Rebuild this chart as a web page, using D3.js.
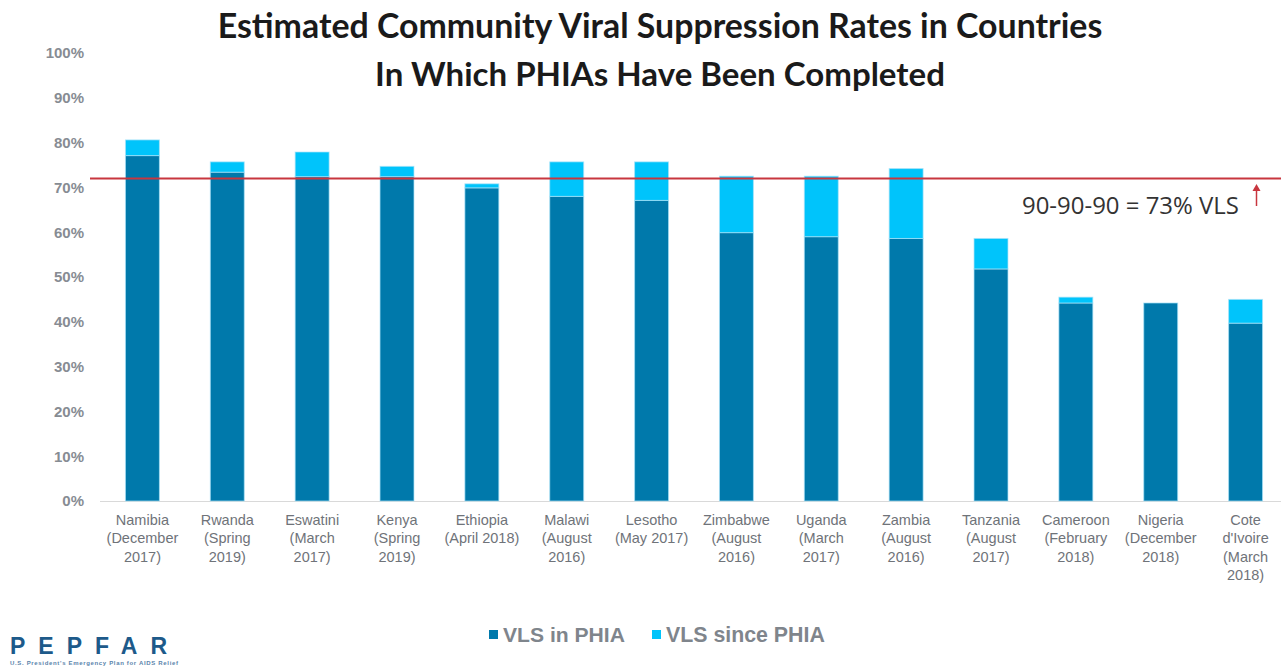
<!DOCTYPE html>
<html>
<head>
<meta charset="utf-8">
<script src="https://cdn.jsdelivr.net/npm/d3@7"></script>
<style>
  body { margin: 0; background: #fff; }
  svg { display: block; }
</style>
</head>
<body>
<div id="plot"></div>
<script>
// ############ DATA ###############

const countries = ["Namibia", "Rwanda", "Eswatini", "Kenya", "Ethiopia", "Malawi", "Lesotho",
  "Zimbabwe", "Uganda", "Zambia", "Tanzania", "Cameroon", "Nigeria", "Cote d'Ivoire"];

const labelLines = [
  ["Namibia", "(December", "2017)"],
  ["Rwanda", "(Spring", "2019)"],
  ["Eswatini", "(March", "2017)"],
  ["Kenya", "(Spring", "2019)"],
  ["Ethiopia", "(April 2018)"],
  ["Malawi", "(August", "2016)"],
  ["Lesotho", "(May 2017)"],
  ["Zimbabwe", "(August", "2016)"],
  ["Uganda", "(March", "2017)"],
  ["Zambia", "(August", "2016)"],
  ["Tanzania", "(August", "2017)"],
  ["Cameroon", "(February", "2018)"],
  ["Nigeria", "(December", "2018)"],
  ["Cote", "d'Ivoire", "(March", "2018)"]
];

const vlsInPhia    = [77.1, 73.4, 72.4, 72.4, 69.9, 68.0, 67.1, 59.9, 59.0, 58.6, 51.8, 44.2, 44.2, 39.7];
const vlsSincePhia = [ 3.5,  2.3,  5.5,  2.3,  0.9,  7.7,  8.6, 12.6, 13.5, 15.6,  6.8,  1.3,  0.0,  5.3];

const seriesNames = ["VLS in PHIA", "VLS since PHIA"];
const seriesColors = ["#0079ab", "#00c4fb"];

const yTicks = [0, 10, 20, 30, 40, 50, 60, 70, 80, 90, 100];

const targetValue = 72;
const targetLabel = "90-90-90 = 73% VLS";

const titleLines = ["Estimated Community Viral Suppression Rates in Countries",
  "In Which PHIAs Have Been Completed"];

// ############ SETUP ###############

const w = 1281, h = 667;

const svg = d3.select("div#plot")
  .append("svg")
  .attr("width", w)
  .attr("height", h);

svg.append("rect")
  .attr("width", w)
  .attr("height", h)
  .attr("fill", "#fff");

const xScale = d3.scaleBand()
  .domain(countries)
  .range([100, 1288])
  .paddingInner(0.6)
  .paddingOuter(0.3);

const yScale = d3.scaleLinear()
  .domain([0, 100])
  .range([501, 53]);

// fit a text element to a given width by changing its font size
function fitWidth(sel, width) {
  const len = sel.node().getComputedTextLength();
  const fs = parseFloat(sel.attr("font-size"));
  sel.attr("font-size", fs * width / len);
}

// title
svg.append("g")
  .attr("id", "title")
  .selectAll("text")
  .data(titleLines)
  .enter()
  .append("text")
    .attr("x", 660)
    .attr("y", (d, i) => 38 + i * 48)
    .attr("text-anchor", "middle")
    .attr("font-family", "Lato, 'Open Sans', sans-serif")
    .attr("font-weight", "bold")
    .attr("font-size", 32)
    .attr("fill", "#1a1a1a")
    .text(d => d)
    .each(function(d, i) { fitWidth(d3.select(this), i == 0 ? 885 : 570); });

// y-axis labels
const yAxis = d3.axisLeft(yScale)
  .tickValues(yTicks)
  .tickSize(0)
  .tickPadding(0)
  .tickFormat(d => d + "%");

svg.append("g")
  .attr("id", "yaxis")
  .attr("transform", "translate(84, 0)")
  .call(yAxis)
  .call(g => g.select(".domain").remove())
  .selectAll("text")
    .attr("font-family", "'Liberation Sans', Arial, sans-serif")
    .attr("font-weight", "bold")
    .attr("font-size", 15)
    .attr("fill", "#878c93");

// baseline
svg.append("line")
  .attr("x1", 100)
  .attr("x2", w)
  .attr("y1", yScale(0) + 0.5)
  .attr("y2", yScale(0) + 0.5)
  .attr("stroke", "#d9d9d9")
  .attr("stroke-width", 1);

// ############ BARS ###############

const table = countries.map((c, i) => ({country: c, "VLS in PHIA": vlsInPhia[i], "VLS since PHIA": vlsSincePhia[i]}));
const stacked = d3.stack().keys(seriesNames)(table);

svg.append("g")
  .attr("id", "bars")
  .selectAll("g")
  .data(stacked)
  .enter()
  .append("g")
    .attr("fill", (d, i) => seriesColors[i])
  .selectAll("rect")
  .data(d => d.filter(e => e[1] - e[0] > 0))
  .enter()
  .append("rect")
    .attr("x", d => xScale(d.data.country))
    .attr("y", d => yScale(d[1]))
    .attr("width", xScale.bandwidth())
    .attr("height", d => yScale(d[0]) - yScale(d[1]))
    .attr("stroke", "#a9e3f8")
    .attr("stroke-opacity", 0.7)
    .attr("stroke-width", 1);

// x labels
svg.append("g")
  .attr("id", "xlabels")
  .selectAll("text")
  .data(countries)
  .enter()
  .append("text")
    .attr("text-anchor", "middle")
    .attr("font-family", "'Liberation Sans', Arial, sans-serif")
    .attr("font-size", 14.5)
    .attr("fill", "#6f7379")
    .selectAll("tspan")
    .data((d, i) => labelLines[i].map(l => ({c: d, l: l})))
    .enter()
    .append("tspan")
      .attr("x", d => xScale(d.c) + xScale.bandwidth() / 2)
      .attr("y", (d, j) => 525 + j * 18.3)
      .text(d => d.l);

// ############ TARGET LINE ###############

svg.append("line")
  .attr("x1", 90)
  .attr("x2", w)
  .attr("y1", yScale(targetValue))
  .attr("y2", yScale(targetValue))
  .attr("stroke", "#c8363f")
  .attr("stroke-width", 2);

svg.append("text")
  .attr("x", 1022)
  .attr("y", 214)
  .attr("font-family", "'Open Sans', sans-serif")
  .attr("font-size", 24)
  .attr("fill", "#333")
  .text(targetLabel)
  .each(function() { fitWidth(d3.select(this), 217); });

// small arrow pointing up to the line
svg.append("line")
  .attr("x1", 1256.5)
  .attr("x2", 1256.5)
  .attr("y1", 206)
  .attr("y2", 190)
  .attr("stroke", "#c8363f")
  .attr("stroke-width", 1.5);

svg.append("path")
  .attr("d", "M1252.5,191 L1256.5,184 L1260.5,191 Z")
  .attr("fill", "#c8363f");

// ############ LEGEND ###############

const legendX = [489, 652];

const legend = svg.append("g")
  .attr("id", "legend")
  .selectAll("g")
  .data(seriesNames)
  .enter()
  .append("g")
    .attr("transform", (d, i) => `translate(${legendX[i]}, 0)`);

legend.append("rect")
  .attr("x", 0)
  .attr("y", 630)
  .attr("width", 9)
  .attr("height", 9)
  .attr("fill", (d, i) => seriesColors[i]);

legend.append("text")
  .attr("x", 14)
  .attr("y", 642)
  .attr("font-family", "'Liberation Sans', Arial, sans-serif")
  .attr("font-weight", "bold")
  .attr("font-size", 19)
  .attr("fill", "#7f858c")
  .text(d => d)
  .each(function(d, i) { fitWidth(d3.select(this), i == 0 ? 122 : 159); });

// ############ LOGO ###############

svg.append("text")
  .attr("x", 10)
  .attr("y", 654)
  .attr("font-family", "'Liberation Sans', Arial, sans-serif")
  .attr("font-weight", "bold")
  .attr("font-size", 23)
  .attr("letter-spacing", 13)
  .attr("fill", "#1d5a8a")
  .text("PEPFAR");

svg.append("text")
  .attr("x", 10)
  .attr("y", 665)
  .attr("font-family", "'Liberation Sans', Arial, sans-serif")
  .attr("font-weight", "bold")
  .attr("font-size", 6)
  .attr("textLength", 168)
  .attr("fill", "#5a84ab")
  .text("U.S. President's Emergency Plan for AIDS Relief");
</script>
</body>
</html>
